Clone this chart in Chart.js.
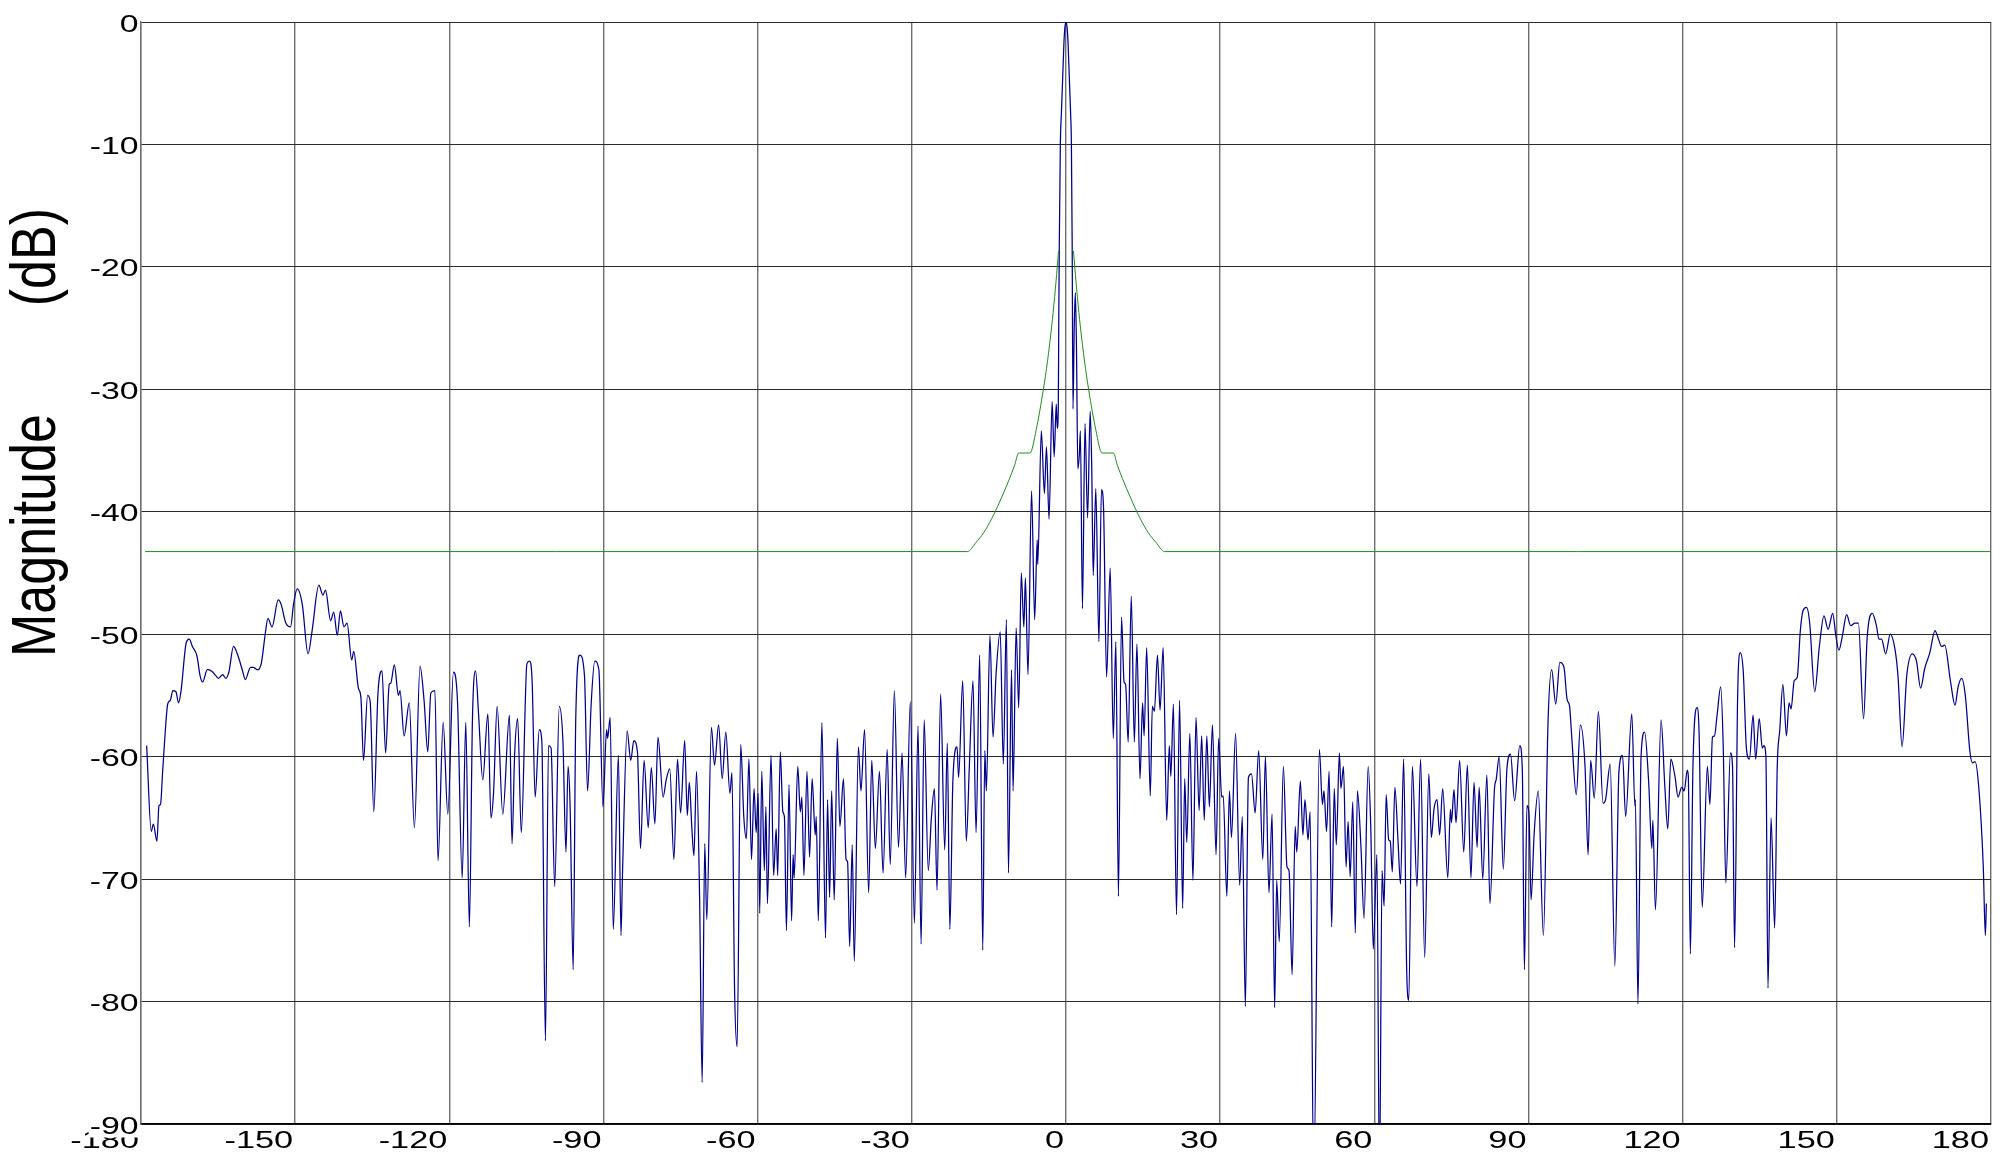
<!DOCTYPE html>
<html>
<head>
<meta charset="utf-8">
<title>Antenna pattern magnitude</title>
<script src="https://cdn.jsdelivr.net/npm/chart.js@4.4.1/dist/chart.umd.min.js"></script>
<style>
  html, body { margin: 0; padding: 0; background: #ffffff; }
  #wrap { width: 2007px; height: 1160px; }
  canvas { display: block; }
</style>
</head>
<body>
<div id="wrap"><canvas id="plot" width="2007" height="1160"></canvas></div>
<script>
// Angle axis (degrees) and magnitude axis (dB) tick values
const angleTicks = [-180, -150, -120, -90, -60, -30, 0, 30, 60, 90, 120, 150, 180];
const magnitudeTicks = [0, -10, -20, -30, -40, -50, -60, -70, -80, -90];

// Measured pattern: angle (deg)
const patternAngle = [
  -178.9,-178.0,-177.6,-176.9,-176.5,-176.2,-175.8,-175.4,-174.8,-174.3,-173.8,-173.2,-172.7,-172.2,-171.2,-170.6,-170.0,-169.1,-168.5,-168.0,
  -167.1,-166.3,-165.4,-164.9,-164.1,-163.5,-162.9,-162.0,-161.1,-160.3,-159.7,-158.7,-158.1,-157.4,-156.6,-155.8,-155.3,-154.5,-153.3,-152.7,
  -151.9,-150.9,-150.3,-149.6,-148.6,-147.5,-146.7,-145.4,-144.6,-144.1,-143.1,-142.5,-141.8,-141.2,-140.5,-139.9,-139.0,-138.6,-137.7,-137.2,
  -136.7,-135.9,-135.4,-134.7,-133.9,-133.1,-132.4,-131.7,-131.4,-130.7,-129.9,-129.6,-128.8,-127.8,-126.8,-125.7,-124.9,-124.2,-123.6,-122.8,
  -122.2,-121.2,-120.3,-119.2,-118.4,-117.5,-116.8,-116.1,-115.5,-114.9,-114.3,-113.5,-112.5,-111.9,-111.4,-110.7,-109.6,-108.3,-107.8,-107.3,
  -106.7,-106.0,-104.9,-104.4,-103.9,-103.3,-102.5,-102.0,-101.3,-100.7,-100.2,-99.5,-98.6,-97.9,-97.3,-96.9,-96.5,-95.9,-95.4,-94.6,
  -93.7,-93.1,-92.4,-91.7,-90.9,-90.1,-89.4,-89.2,-88.7,-88.1,-87.1,-86.6,-86.3,-85.4,-84.7,-84.1,-83.4,-82.8,-82.1,-81.3,
  -80.7,-80.0,-79.4,-78.4,-77.8,-77.1,-76.3,-75.6,-75.0,-74.2,-73.7,-73.3,-72.8,-72.4,-71.9,-71.3,-70.8,-70.3,-69.9,-69.0,
  -68.4,-67.6,-66.9,-66.2,-65.4,-65.0,-64.5,-64.0,-63.3,-62.7,-62.2,-61.7,-61.2,-60.7,-60.3,-59.9,-59.6,-59.2,-58.7,-58.4,
  -58.1,-57.4,-56.9,-56.4,-56.1,-55.6,-55.1,-54.8,-54.4,-53.9,-53.4,-53.1,-52.9,-52.2,-51.7,-51.4,-51.0,-50.4,-49.9,-49.4,
  -48.8,-48.6,-48.2,-47.5,-46.8,-46.4,-46.0,-45.6,-45.1,-44.5,-44.0,-43.3,-42.8,-42.5,-42.1,-41.6,-41.2,-40.4,-39.9,-39.2,
  -38.4,-37.8,-37.1,-36.3,-35.6,-34.8,-34.2,-33.4,-32.6,-31.9,-31.2,-30.3,-29.5,-28.8,-28.2,-27.6,-26.8,-26.2,-25.6,-25.1,
  -24.4,-23.6,-23.1,-22.6,-22.0,-21.2,-20.9,-20.1,-19.4,-18.8,-18.1,-17.5,-16.8,-16.2,-15.8,-15.5,-14.8,-14.2,-13.6,-12.8,
  -12.2,-11.6,-11.2,-10.6,-10.3,-9.7,-9.2,-8.7,-8.2,-7.9,-7.4,-6.7,-6.1,-5.6,-5.5,-4.8,-4.2,-3.8,-3.3,-2.7,
  -2.3,-1.9,-1.7,-1.5,-1.4,-1.3,-1.1,-0.9,-0.7,-0.4,-0.2,0.0,0.2,0.4,0.7,0.9,1.05,1.2,1.36,1.6,
  1.82,2.05,2.3,2.6,2.8,3.2,3.7,4.2,4.7,5.0,5.3,5.8,6.4,6.9,7.3,7.9,8.6,9.2,9.7,10.2,
  10.8,11.3,11.6,12.1,12.7,13.3,13.8,14.4,14.9,15.2,15.7,16.4,16.8,17.2,17.8,18.3,18.9,19.6,20.1,20.4,
  20.9,21.5,22.1,22.7,23.1,23.5,24.1,24.7,25.3,25.9,26.4,26.9,27.4,27.9,28.5,29.2,29.7,30.3,30.6,31.3,
  31.8,32.2,33.0,33.8,34.3,34.9,35.5,36.1,36.8,37.5,38.3,38.8,39.5,40.1,40.6,41.0,41.5,42.3,43.0,43.4,
  44.0,44.6,44.9,45.6,46.1,46.5,47.1,47.5,48.2,49.3,49.9,50.2,50.7,51.2,51.7,52.2,52.6,53.2,53.5,54.0,
  54.5,54.9,55.3,55.8,56.3,56.7,57.4,58.0,58.8,59.3,59.8,60.5,61.0,61.5,61.9,62.3,62.8,63.1,63.5,64.0,
  64.6,65.1,65.7,66.3,66.7,67.4,68.3,69.0,69.8,70.6,71.1,71.6,72.2,72.7,73.3,74.3,74.8,75.0,75.5,75.9,
  76.6,77.4,78.1,78.8,79.4,80.0,80.4,81.1,81.9,82.5,83.4,83.7,84.3,85.1,85.8,86.5,87.3,88.3,88.8,89.2,
  89.7,90.1,90.5,91.1,91.9,92.9,93.8,94.5,95.3,96.1,96.9,97.5,98.0,98.4,99.3,100.1,101.0,101.6,102.1,102.8,
  103.6,104.5,105.0,105.9,106.8,107.6,108.3,108.9,110.1,110.7,110.8,111.3,111.9,112.6,113.4,114.0,114.2,114.7,115.8,116.5,
  117.1,117.7,118.5,119.1,119.8,120.3,120.9,121.1,121.5,122.0,122.8,123.2,123.8,124.8,125.3,125.8,126.2,126.7,127.4,127.9,
  128.4,129.3,129.7,130.1,130.7,131.2,131.8,132.4,133.0,133.7,134.2,134.9,135.5,135.8,136.2,136.6,137.2,137.9,138.4,138.9,
  139.5,140.2,140.7,141.1,141.7,142.3,142.9,143.4,144.1,144.7,145.7,146.6,147.5,148.3,149.2,149.8,150.4,151.1,151.9,152.7,
  153.5,154.2,155.2,155.9,156.9,157.7,158.2,158.7,159.5,160.4,161.3,161.9,162.7,163.6,164.7,165.5,166.3,167.1,168.1,169.1,
  169.7,170.4,171.0,172.1,173.0,173.6,174.3,175.0,175.9,176.4,176.9,177.6,178.5,178.9,179.1
];

// Measured pattern: magnitude (dB)
const patternMagnitude = [
  -59.1,-66.1,-65.5,-66.9,-64.0,-63.9,-61.3,-58.7,-55.7,-55.4,-54.6,-54.7,-55.6,-54.6,-50.7,-50.4,-51.0,-51.8,-53.4,-53.9,
  -52.9,-53.0,-53.4,-53.6,-53.3,-53.6,-53.1,-51.0,-51.8,-52.9,-53.7,-52.7,-52.7,-52.9,-52.4,-49.9,-48.7,-49.4,-47.2,-47.6,
  -49.0,-49.4,-47.5,-46.3,-47.6,-51.6,-49.7,-46.0,-46.8,-46.4,-48.9,-48.2,-50.1,-48.1,-49.4,-49.1,-52.1,-51.4,-54.4,-55.2,
  -60.3,-55.0,-55.5,-64.5,-54.9,-53.0,-59.7,-54.1,-54.0,-52.5,-55.0,-54.6,-58.3,-55.6,-65.8,-52.6,-55.5,-59.6,-54.8,-54.6,
  -68.5,-57.2,-64.7,-53.1,-55.6,-69.9,-57.2,-73.9,-56.9,-53.0,-56.6,-61.9,-56.5,-65.0,-63.0,-55.9,-64.7,-56.6,-67.1,-59.9,
  -56.9,-66.2,-52.4,-52.2,-53.7,-63.3,-57.8,-58.7,-83.2,-59.1,-59.3,-70.6,-55.9,-58.7,-67.8,-60.8,-64.0,-77.4,-56.9,-51.7,
  -53.4,-62.8,-55.7,-52.2,-52.9,-64.1,-57.8,-58.5,-56.8,-74.1,-59.9,-74.6,-69.5,-57.9,-60.3,-58.7,-59.6,-67.5,-60.3,-65.8,
  -60.9,-65.5,-58.4,-63.3,-61.9,-61.0,-68.4,-60.2,-64.6,-58.7,-64.8,-62.1,-65.9,-68.1,-61.2,-71.5,-86.6,-67.1,-73.3,-57.6,
  -60.7,-57.4,-61.8,-58.0,-63.0,-61.3,-78.9,-83.7,-59.0,-64.9,-66.7,-60.2,-68.4,-62.6,-66.2,-63.0,-72.8,-61.2,-69.3,-64.1,
  -72.0,-59.9,-69.7,-65.9,-69.7,-59.6,-64.5,-64.9,-74.2,-62.3,-73.4,-68.0,-69.9,-60.8,-64.5,-63.3,-69.7,-61.2,-68.2,-61.8,
  -66.4,-64.9,-73.4,-57.2,-74.8,-63.5,-71.5,-62.8,-71.7,-58.5,-65.7,-61.8,-68.4,-68.6,-75.5,-67.2,-76.7,-59.2,-62.8,-57.8,
  -71.1,-60.3,-67.5,-61.2,-69.5,-59.4,-68.8,-54.6,-67.4,-59.7,-69.9,-55.5,-73.6,-57.5,-75.3,-57.0,-69.3,-65.0,-62.6,-70.9,
  -54.9,-67.6,-58.9,-74.1,-61.8,-59.2,-61.7,-53.8,-66.9,-60.7,-53.8,-66.2,-51.7,-75.8,-59.5,-62.8,-50.1,-58.4,-53.2,-49.8,
  -60.6,-48.8,-69.5,-52.9,-62.8,-49.5,-56.0,-45.0,-49.4,-45.4,-53.3,-38.3,-48.8,-42.3,-44.3,-33.4,-38.5,-34.7,-40.6,-31.0,
  -35.5,-31.2,-33.2,-31.5,-24.0,-18.0,-10.0,-7.5,-5.2,-1.7,-0.4,0.0,-0.4,-1.7,-5.2,-7.5,-10.0,-18.0,-31.6,-25.0,
  -22.1,-27.0,-36.5,-35.3,-33.4,-47.9,-32.8,-40.5,-31.8,-36.1,-45.2,-38.1,-50.6,-38.2,-39.6,-53.5,-44.6,-58.5,-50.6,-71.4,
  -48.6,-53.9,-54.1,-58.8,-46.9,-58.8,-50.8,-61.8,-55.6,-58.3,-51.1,-63.2,-55.9,-56.3,-51.7,-56.2,-51.1,-65.2,-59.1,-61.6,
  -55.7,-72.9,-55.4,-72.4,-61.8,-67.0,-58.1,-70.1,-56.8,-64.4,-58.3,-65.2,-58.3,-64.1,-57.4,-68.0,-58.5,-63.3,-63.2,-71.4,
  -62.8,-66.6,-58.1,-70.5,-64.9,-80.4,-61.7,-61.4,-64.6,-59.5,-68.4,-60.0,-71.1,-64.7,-80.5,-70.1,-75.1,-60.8,-69.0,-69.3,
  -77.8,-65.7,-67.8,-62.0,-66.4,-63.5,-66.8,-64.5,-95.0,-59.4,-63.9,-62.8,-66.1,-61.2,-73.9,-62.6,-67.2,-59.7,-62.6,-60.8,
  -69.0,-65.3,-69.8,-63.7,-74.4,-62.8,-67.4,-73.2,-60.8,-65.7,-75.7,-68.0,-95.0,-69.3,-72.2,-63.1,-66.8,-66.9,-69.4,-62.5,
  -66.8,-70.4,-60.2,-77.5,-79.9,-60.8,-70.6,-60.2,-76.4,-61.4,-66.6,-64.3,-63.5,-66.4,-62.6,-69.9,-64.3,-65.4,-62.7,-65.4,
  -60.3,-67.8,-60.7,-69.9,-62.1,-67.4,-62.5,-70.0,-61.5,-72.0,-62.5,-61.9,-60.0,-69.2,-61.0,-59.8,-63.6,-59.1,-61.1,-77.4,
  -64.0,-64.7,-71.7,-66.3,-62.8,-74.6,-57.2,-52.9,-55.7,-52.3,-52.7,-55.3,-55.9,-58.3,-63.1,-57.4,-60.8,-68.0,-60.3,-63.4,
  -56.3,-63.8,-63.5,-60.6,-77.1,-61.2,-59.9,-64.9,-56.5,-64.0,-63.5,-80.2,-60.0,-58.0,-62.2,-67.5,-65.2,-72.5,-57.0,-62.2,
  -65.9,-60.2,-61.6,-63.3,-62.5,-62.8,-61.1,-61.6,-76.1,-60.8,-56.0,-58.1,-72.3,-60.8,-63.9,-58.4,-58.3,-56.6,-54.3,-59.3,
  -70.3,-59.7,-60.8,-75.6,-55.0,-51.5,-53.1,-59.3,-60.2,-56.6,-60.2,-56.9,-59.3,-59.1,-60.0,-78.9,-65.0,-74.0,-60.9,-57.8,
  -54.1,-58.3,-55.6,-56.1,-53.8,-53.5,-49.7,-48.1,-47.8,-49.0,-54.7,-51.0,-48.5,-49.6,-48.3,-50.1,-51.3,-50.1,-48.4,-49.3,
  -49.1,-49.1,-56.9,-50.3,-48.3,-49.3,-50.4,-50.4,-51.6,-50.0,-51.2,-53.4,-59.2,-53.4,-51.6,-52.2,-54.4,-52.8,-51.5,-49.7,
  -50.3,-51.0,-50.9,-53.8,-55.8,-54.3,-53.6,-55.0,-59.6,-60.5,-60.4,-62.4,-69.0,-74.6,-72.0
];

// Sidelobe mask: angle (deg), split at boresight
const maskAngle = [
  -179.2,-19.2,-17.5,-16.0,-14.5,-13.9,-12.5,-11.0,-10.0,-9.2,-7.0,-5.8,-4.4,-3.6,-2.8,-2.2,-1.7,-1.45,
  0,
  1.45,1.7,2.2,2.8,3.6,4.4,5.8,7.0,9.2,10.0,11.0,12.5,13.9,14.5,16.0,17.5,19.2,179.9
];

// Sidelobe mask: level (dB); null leaves the gap over the main lobe
const maskLevel = [
  -43.25,-43.25,-42.5,-41.7,-40.6,-40.1,-38.8,-37.3,-36.2,-35.2,-35.2,-33.3,-30.0,-27.7,-24.9,-22.4,-20.0,-18.7,
  null,
  -18.7,-20.0,-22.4,-24.9,-27.7,-30.0,-33.3,-35.2,-35.2,-36.2,-37.3,-38.8,-40.1,-40.6,-41.7,-42.5,-43.25,-43.25
];

const patternPoints = patternAngle.map((a, i) => ({ x: a, y: patternMagnitude[i] }));
const maskPoints = maskAngle.map((a, i) => ({ x: a, y: maskLevel[i] }));

const FONT = '"Liberation Sans", Arial, Helvetica, sans-serif';

// Axis labels are drawn wide (horizontally stretched) in this plot style
const axisText = {
  id: 'axisText',
  afterDraw(chart) {
    const ctx = chart.ctx;
    const xs = chart.scales.x;
    const ys = chart.scales.y;
    const area = chart.chartArea;
    ctx.save();
    ctx.fillStyle = '#000000';
    ctx.font = '24.5px ' + FONT;
    ctx.textAlign = 'right';
    ctx.textBaseline = 'alphabetic';

    // angle labels, right edge at each grid line
    xs.ticks.forEach(t => {
      const px = xs.getPixelForValue(t.value);
      ctx.save();
      ctx.translate(px - 2, area.bottom + 24);
      ctx.scale(1.4, 1);
      ctx.fillText(String(t.value), 0, 0);
      ctx.restore();
    });

    // magnitude labels with white backing
    ys.ticks.forEach(t => {
      const py = ys.getPixelForValue(t.value);
      const label = String(t.value);
      const w = ctx.measureText(label).width * 1.38;
      const right = area.left - 2.5;
      const base = py + 9.5;
      ctx.fillStyle = '#ffffff';
      ctx.fillRect(right - w - 1, base - 19, w + 2, 23);
      ctx.fillStyle = '#000000';
      ctx.save();
      ctx.translate(right, base);
      ctx.scale(1.38, 1);
      ctx.fillText(label, 0, 0);
      ctx.restore();
    });

    // rotated axis title
    ctx.font = '52px ' + FONT;
    ctx.save();
    ctx.translate(55, 657);
    ctx.rotate(-Math.PI / 2);
    ctx.scale(1, 1.22);
    ctx.textAlign = 'left';
    ctx.fillText('Magnitude', 0, 0);
    ctx.restore();
    ctx.save();
    ctx.translate(55, 208);
    ctx.rotate(-Math.PI / 2);
    ctx.scale(1, 1.22);
    ctx.textAlign = 'right';
    ctx.fillText('(dB)', 0, 0);
    ctx.restore();

    ctx.restore();
  }
};

const whiteBackground = {
  id: 'whiteBackground',
  beforeDraw(chart) {
    const ctx = chart.ctx;
    ctx.save();
    ctx.fillStyle = '#ffffff';
    ctx.fillRect(0, 0, chart.width, chart.height);
    ctx.restore();
  }
};

new Chart(document.getElementById('plot'), {
  type: 'line',
  data: {
    datasets: [
      {
        label: 'Mask',
        data: maskPoints,
        borderColor: '#1b8f1b',
        borderWidth: 1,
        pointRadius: 0,
        cubicInterpolationMode: 'monotone',
        spanGaps: false,
        order: 0
      },
      {
        label: 'Pattern',
        data: patternPoints,
        borderColor: '#00008b',
        borderWidth: 1.25,
        pointRadius: 0,
        cubicInterpolationMode: 'monotone',
        order: 1
      }
    ]
  },
  options: {
    responsive: false,
    animation: false,
    devicePixelRatio: 1,
    parsing: false,
    normalized: true,
    layout: { padding: { top: 22, right: 16, bottom: 0, left: 0 } },
    plugins: {
      legend: { display: false },
      tooltip: { enabled: false },
      title: { display: false }
    },
    scales: {
      x: {
        type: 'linear',
        min: -180,
        max: 180,
        afterBuildTicks(scale) { scale.ticks = angleTicks.map(v => ({ value: v })); },
        afterFit(scale) { scale.height = 36; },
        ticks: { display: false },
        grid: { color: '#6e6e6e', lineWidth: 1.4, drawTicks: false },
        border: { display: true, color: '#000000', width: 1.4 }
      },
      y: {
        type: 'linear',
        min: -90,
        max: 0,
        afterBuildTicks(scale) { scale.ticks = magnitudeTicks.map(v => ({ value: v })); },
        afterFit(scale) { scale.width = 141; },
        ticks: { display: false },
        grid: { color: '#2b2b2b', lineWidth: 1, drawTicks: false },
        border: { display: true, color: '#6e6e6e', width: 1.4 }
      }
    }
  },
  plugins: [whiteBackground, axisText]
});
</script>
</body>
</html>
